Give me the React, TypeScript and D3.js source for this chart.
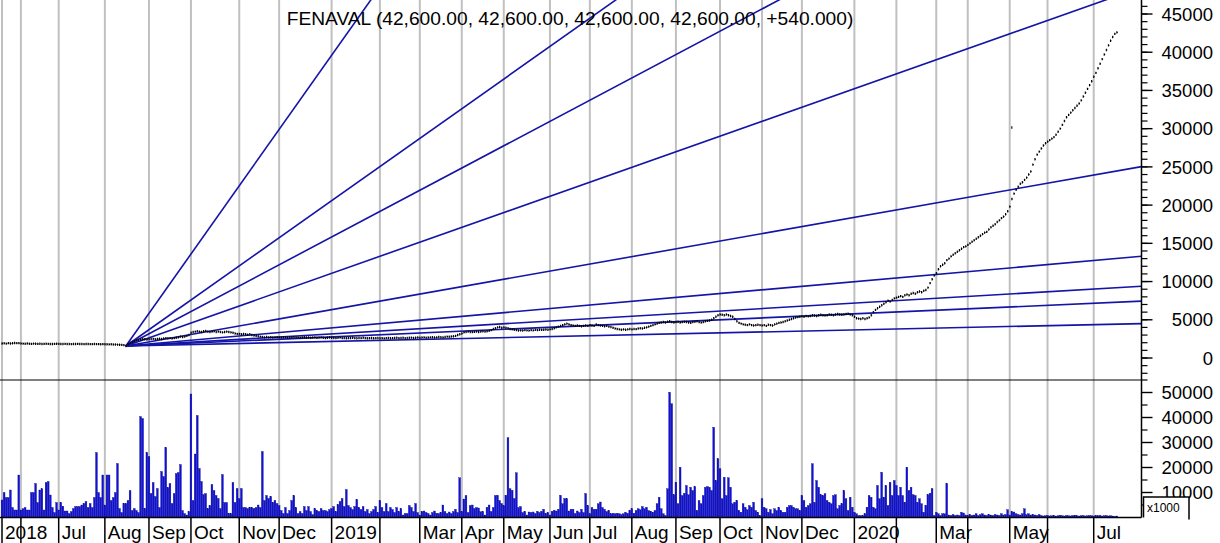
import React from "react";
import * as d3 from "d3";

const title = "FENAVAL (42,600.00, 42,600.00, 42,600.00, 42,600.00, +540.000)";

const monthLabels = ["2018", "", "Jul", "Aug", "Sep", "Oct", "Nov", "Dec", "2019", "", "Mar", "Apr", "May", "Jun", "Jul", "Aug", "Sep", "Oct", "Nov", "Dec", "2020", "", "Mar", "", "May", "", "Jul"];
const monthStart = [0, 9, 27, 49, 70, 90, 113, 132, 157, 180, 199, 219, 239, 261, 280, 300, 321, 342, 362, 381, 406, 426, 445, 460, 480, 498, 520];

const close2018 = [
  1900, 1920, 1880, 1950, 1900, 1930, 1960, 1940, 1950,
  1900, 1880, 1870, 1890, 1860, 1850, 1880, 1870, 1850, 1860, 1840, 1850, 1860, 1850, 1840, 1830, 1850, 1860,
  1850, 1840, 1830, 1850, 1840, 1830, 1820, 1840, 1830, 1850, 1840, 1830, 1820, 1840, 1830, 1820, 1810, 1830, 1820, 1810, 1800, 1810,
  1800, 1790, 1780, 1790, 1770, 1760, 1750, 1740, 1720, 1680, 1570, 1800, 2000, 2100, 2200, 2300, 2350, 2400, 2450, 2450, 2400,
  2450, 2480, 2500, 2450, 2500, 2520, 2480, 2550, 2600, 2580, 2600, 2550, 2600, 2650, 2700, 2800, 2750, 2800, 2900, 3000,
  3300, 3400, 3450, 3500, 3450, 3400, 3500, 3550, 3450, 3400, 3450, 3500, 3400, 3450, 3400, 3350, 3400, 3450, 3400, 3350, 3300, 3200, 3150,
  3150, 3100, 3150, 3100, 3050, 3100, 3000, 2950, 2900, 2850, 2800, 2750, 2700, 2750, 2700, 2720, 2680, 2700, 2720,
  2700, 2680, 2720, 2700, 2650, 2680, 2700, 2720, 2700, 2680, 2650, 2700, 2720, 2680, 2700, 2650, 2680, 2700, 2650, 2680, 2700, 2650, 2600, 2650, 2680,
];
const close2019 = [
  2650, 2620, 2600, 2650, 2680, 2600, 2620, 2580, 2600, 2620, 2650, 2600, 2580, 2620, 2600, 2650, 2600, 2580, 2600, 2620, 2580, 2600, 2620,
  2580, 2600, 2570, 2600, 2620, 2580, 2600, 2620, 2640, 2600, 2620, 2650, 2600, 2620, 2640, 2660, 2620, 2650, 2680,
  2650, 2680, 2700, 2650, 2680, 2700, 2720, 2680, 2700, 2750, 2720, 2700, 2750, 2800, 2780, 2820, 2850, 2900, 3000, 3100,
  3200, 3350, 3400, 3450, 3400, 3380, 3420, 3450, 3400, 3450, 3500, 3450, 3500, 3550, 3650, 3800, 3900, 4000, 4050, 3950,
  4000, 3950, 3900, 3800, 3750, 3700, 3650, 3600, 3620, 3600, 3650, 3620, 3600, 3650, 3620, 3680, 3650, 3700, 3680, 3700, 3720, 3700,
  3750, 3800, 3900, 4000, 4100, 4200, 4300, 4400, 4500, 4400, 4300, 4250, 4200, 4250, 4200, 4150, 4200, 4250, 4200,
  4300, 4250, 4200, 4400, 4300, 4250, 4200, 4150, 4200, 4100, 4050, 3950, 3850, 3800, 3750, 3700, 3750, 3700, 3750, 3800,
  3750, 3800, 3780, 3850, 3900, 3850, 3950, 4000, 4100, 4200, 4300, 4400, 4500, 4600, 4650, 4700, 4650, 4750, 4800, 4700, 4650,
  4700, 4750, 4650, 4700, 4750, 4700, 4650, 4600, 4700, 4750, 4800, 4700, 4650, 4700, 4800, 4850, 4900, 5000, 5200, 5400, 5600,
  5700, 5650, 5600, 5700, 5600, 5500, 5400, 5100, 4800, 4600, 4500, 4400, 4350, 4300, 4400, 4300, 4250, 4300, 4350, 4300,
  4250, 4300, 4200, 4350, 4300, 4250, 4400, 4500, 4600, 4650, 4700, 4800, 4900, 5000, 5100, 5200, 5300, 5350, 5400,
  5450, 5400, 5500, 5450, 5500, 5600, 5550, 5500, 5600, 5650, 5600, 5550, 5600, 5700, 5650, 5600, 5700, 5750, 5700, 5650, 5700, 5750, 5800, 5700, 5600,
];
const close2020 = [
  5400, 5200, 5150, 5100, 5200, 5100, 5200, 5300, 5600, 6000, 6300, 6500, 6700, 6900, 7100, 7300, 7500, 7400, 7600, 7800,
  7900, 8000, 8100, 8000, 8200, 8300, 8200, 8400, 8500, 8400, 8600, 8700, 8600, 8800, 8900, 9200, 9800, 10300, 10800,
  11100, 11600, 12000, 12200, 12400, 12800, 13000, 13300, 13500, 13700, 13900, 14100, 14300, 14500, 14600,
  14800, 15000, 15200, 15400, 15600, 15800, 16000, 16200, 16400, 16500, 16800, 17100, 17300, 17500, 17800, 18000, 18300, 18500, 18800, 19200,
  19800, 20800, 21500, 22000, 22400, 22800, 23000, 23300, 23600, 24000, 24400, 25300, 26000, 26600, 27000, 27400, 27800, 28100,
  28300, 28500, 28700, 28900, 29200, 29600, 30000, 30500, 31000, 31500, 31800, 32100, 32400, 32700, 33000, 33300, 33700, 34200, 34700, 35200, 35700, 36200,
  36800, 37300, 37900, 38500, 39100, 39700, 40300, 40900, 41500, 42000, 42400, 42600,
];

// volume, in thousands of axis units (axis is "x1000")
const volume2018 = [
  7, 10, 8, 8, 11, 4, 3, 3, 17, 3,
  3.5, 4, 3, 3, 10, 10, 13.6, 6, 11, 11.5,
  3, 14, 14.4, 9, 4, 2, 6, 3, 6, 4.5,
  2.6, 2.6, 1.6, 2.4, 3.6, 4.4, 4.4, 4.4, 5, 5.6,
  6.4, 4, 5.6, 4, 8, 26, 10, 8, 17, 5,
  17, 17, 6.8, 8, 10, 21.6, 3.6, 2, 5.6, 5.6,
  6.8, 10.8, 2.8, 3.6, 2.8, 2, 40.4, 39.6, 3.6, 26,
  24.4, 9.6, 14, 8.4, 11.6, 4, 18.4, 16.4, 28, 12,
  13.6, 5.6, 9.6, 17.6, 18, 21.2, 2.8, 1.6, 1, 2.4,
  49.4, 6.8, 25.4, 40.8, 19.6, 14.4, 9.2, 9.6, 3.6, 4.8,
  13.2, 10.8, 8.8, 7.6, 3.6, 17.2, 6, 6, 1.6, 1.6,
  14, 6, 11.6, 7.6, 11.6, 4, 4, 3.6, 4, 4,
  3.6, 4, 5, 4, 26.4, 6.8, 8.8, 7.6, 8.4, 6,
  6.8, 5.6, 4.8, 2.8, 1.6, 4, 1.6, 2.8, 6.8, 8.8,
  4, 1.6, 2.4, 1.6, 4.4, 2.8, 4.4, 2.4, 1.2, 3.6,
  2.8, 2.4, 3.6, 2.8, 2.8, 2.4, 3.2,
];
const volume2019 = [
  3.6, 4.4, 2.4,
  5.2, 6.4, 7.6, 4.4, 11.2, 4.8, 4, 3.2, 4.4, 7.2,
  4, 3.2, 4.4, 2.4, 3.2, 1.6, 2.4, 3.2, 4.4, 2,
  6.8, 4, 2.4, 5.6, 2.4, 4, 3.2, 2, 4, 2.4,
  3.6, 1, 1.6, 1.6, 4.8, 4, 2.4, 5.6, 2, 1,
  2.4, 2.6, 2, 1.6, 1, 2, 2.6, 1.7, 1.6, 2,
  5, 2.4, 1.6, 2.2, 1.6, 2.4, 3.3, 2, 15.9, 2.4,
  7.4, 8.8, 2, 4.8, 5, 3.6, 4, 3.8, 2.3, 2.4,
  1, 4.1, 5, 2.4, 4, 8.8, 8.9, 6.8, 5.6, 4.7,
  8.9, 31.9, 11.5, 10.9, 7.6, 17.9, 4, 4.4, 2, 2.4,
  1, 2.2, 2, 2.2, 1.6, 2.5, 2, 2.5, 3.3, 1.6,
  2, 1, 2.5, 2.9, 2.6, 3.3, 8.9, 5.5, 7.6, 7.5,
  2.6, 3.3, 3.3, 1.6, 2.6, 2, 3.3, 2, 9.6, 4.8,
  1.5, 4, 3.3, 3.3, 5.5, 6.2, 4, 3.3, 2.4, 2.8,
  1.5, 1.7, 1.5, 1.7, 1.5, 1.2, 1.5, 2.1, 1.7, 2.8,
  3.5, 1.7, 2.8, 3.5, 3.1, 4.4, 3.5, 4.1, 2.8, 2.5,
  2.1, 2.8, 5.5, 8.1, 3.5, 1.5, 0.8, 11.5, 50.1, 45.5,
  9.1, 14.1, 5.5, 20.1, 8.8, 9.7, 12.8, 9.1, 12.1, 10.8,
  12.4, 2.8, 6.8, 5.5, 8.8, 12.1, 12.4, 12.1, 10.8, 36.1,
  14.8, 23.5, 19.5, 7.5, 16.1, 8.8, 15.9, 12.1, 5.5, 6.1,
  6.8, 2.8, 2.1, 5.5, 4.1, 3.1, 4.8, 4.1, 6.1, 2.8,
  2.1, 0.8, 7.5, 4.1, 3.5, 2.1, 3.2, 1.5, 3.5, 2.8,
  4.1, 2.8, 2.1, 2.1, 4.1, 4.8, 4.8, 4.1, 3.5, 3.5,
  2.8, 8.8, 6.8, 4.1, 4.8, 5.5, 21.5, 6.1, 14.8, 12.1,
  9.1, 8.8, 9.5, 6.8, 6.1, 5.5, 8.8, 9.1, 3.5, 4.8,
  5.5, 10.8, 7.5, 2.8, 8.1, 4.1,
];
const volume2020 = [
  2.1, 1.5, 0.8, 0.8,
  0.8, 1.5, 4.1, 8.8, 8.1, 4.1, 3.5, 12.8, 7.5, 18.1,
  8.1, 12.8, 4.8, 14.1, 8.8, 14.8, 12.8, 8.8, 12.1, 8.8,
  6.1, 20.1, 10.8, 12.1, 9.1, 8.8, 6.1, 7.5, 5.5, 2.1,
  4.8, 9.1, 9.7, 11.6, 0.8, 2.1, 1.5, 0.8, 1.5, 1.5,
  13.6, 1, 0.8, 1.2, 0.8, 1, 0.8, 2.1, 1.8, 1,
  0.8, 1.2, 0.8, 1, 1.5, 0.8, 1.2, 1.5, 1, 0.8,
  1.2, 1, 0.8, 1.2, 1, 0.8, 1.5, 1, 1.2, 3.1,
  1, 2.4, 2.2, 1.5, 1.2, 1, 1.5, 3.5, 1.2, 1.5,
  1, 1.2, 1, 0.8, 1.2, 0.8, 0.6, 0.7, 0.9, 0.6,
  0.7, 0.8, 0.6, 0.7, 0.9, 0.7, 0.6, 0.8, 0.7, 0.6,
  0.8, 0.9, 0.7, 0.6, 0.7, 0.8, 0.6, 0.7, 0.8, 0.7,
  0.6, 0.8, 0.7, 0.9, 0.6, 0.7, 0.8, 0.6, 0.7, 0.6,
  0.5, 0.6,
];

const priceSpikes = [{ day: 481, value: 30200 }];

const fanOriginDay = 59;
const fanOriginPrice = 1570;
const fanOneByOnePerDay = 48.5;
const fanRatios = [8, 4, 3, 2, 1, 1 / 2, 1 / 3, 1 / 4, 1 / 8];

const priceTickLabels = [0, 5000, 10000, 15000, 20000, 25000, 30000, 35000, 40000, 45000];
const volumeTickLabels = [10, 20, 30, 40, 50];

const W = 1220;
const H = 543;
const plotRight = 1141.5;
const priceTop = 0;
const priceBottom = 380;
const volBottom = 517.5;
const FONT = "'Liberation Sans', Arial, sans-serif";

export default function App() {
  const close = [...close2018, ...close2019, ...close2020];
  const volume = [...volume2018, ...volume2019, ...volume2020];

  const x = d3.scaleLinear().domain([0, 543]).range([2, 1142]);
  const yP = d3.scaleLinear().domain([0, 45000]).range([358, 14]);
  const yV = d3.scaleLinear().domain([0, 50]).range([volBottom, 392.5]);

  const lastDay = x.invert(plotRight);

  // price marks path (small OHLC-style ticks)
  let markPath = "";
  close.forEach((v, i) => {
    const cx = x(i);
    const cy = yP(v);
    markPath += `M${cx.toFixed(2)},${(cy - 1.2).toFixed(2)}V${(cy + 1.2).toFixed(2)}M${cx.toFixed(2)},${cy.toFixed(2)}H${(cx + 1).toFixed(2)}`;
  });
  priceSpikes.forEach((s) => {
    const cx = x(s.day);
    const cy = yP(s.value);
    markPath += `M${cx.toFixed(2)},${(cy - 1).toFixed(2)}V${(cy + 1.5).toFixed(2)}`;
  });

  const fanLines = fanRatios.map((r) => {
    const endPrice = fanOriginPrice + r * fanOneByOnePerDay * (lastDay - fanOriginDay);
    return {
      x1: x(fanOriginDay),
      y1: yP(fanOriginPrice),
      x2: x(lastDay),
      y2: yP(endPrice),
    };
  });

  const minorPriceTicks = d3.range(-2000, 47000, 1000);
  const minorVolTicks = d3.range(5, 60, 10);

  return (
    <svg
      width={W}
      height={H}
      style={{ position: "absolute", left: 0, top: 0, background: "#fff" }}
      fontFamily={FONT}
    >
      <defs>
        <clipPath id="priceClip">
          <rect x={0} y={priceTop} width={plotRight} height={priceBottom - priceTop} />
        </clipPath>
        <clipPath id="volClip">
          <rect x={0} y={priceBottom} width={plotRight} height={volBottom - priceBottom} />
        </clipPath>
      </defs>
      <rect x={0} y={0} width={W} height={H} fill="#fff" />

      {/* gridlines */}
      {monthStart.map((d, i) => (
        <line key={"g" + i} x1={x(d)} x2={x(d)} y1={0} y2={volBottom} stroke="#c0c0c0" strokeWidth={2} />
      ))}

      {/* volume bars */}
      <g clipPath="url(#volClip)">
        {volume.map((v, i) => (
          <rect
            key={"v" + i}
            x={x(i) - 0.9}
            y={yV(v)}
            width={1.8}
            height={Math.max(0, volBottom - yV(v))}
            fill="#1010dc"
            stroke="#0a0a80"
            strokeWidth={0.35}
          />
        ))}
      </g>

      {/* fan lines */}
      <g clipPath="url(#priceClip)">
        {fanLines.map((l, i) => (
          <line key={"f" + i} x1={l.x1} y1={l.y1} x2={l.x2} y2={l.y2} stroke="#1414a6" strokeWidth={1.6} />
        ))}
        <path d={markPath} stroke="#000" strokeWidth={1.1} fill="none" />
      </g>

      {/* title */}
      <text x={570} y={25} textAnchor="middle" fontSize={19.2} fill="#000">
        {title}
      </text>

      {/* frame lines */}
      <line x1={0} x2={plotRight} y1={priceBottom} y2={priceBottom} stroke="#000" strokeWidth={1} />
      <line x1={0} x2={plotRight} y1={volBottom} y2={volBottom} stroke="#000" strokeWidth={1.5} />
      <line x1={plotRight} x2={plotRight} y1={0} y2={volBottom} stroke="#000" strokeWidth={1.5} />

      {/* price axis */}
      {minorPriceTicks.map((t) => (
        <line key={"pm" + t} x1={plotRight} x2={plotRight + 6} y1={yP(t)} y2={yP(t)} stroke="#000" strokeWidth={1.2} />
      ))}
      {priceTickLabels.map((t) => (
        <g key={"pl" + t}>
          <line x1={plotRight} x2={plotRight + 11} y1={yP(t)} y2={yP(t)} stroke="#000" strokeWidth={1.4} />
          <text x={1213} y={yP(t)} dy="0.36em" textAnchor="end" fontSize={18.5} fill="#000">
            {t}
          </text>
        </g>
      ))}

      {/* volume axis */}
      {minorVolTicks.map((t) => (
        <line key={"vm" + t} x1={plotRight} x2={plotRight + 6} y1={yV(t)} y2={yV(t)} stroke="#000" strokeWidth={1.2} />
      ))}
      {volumeTickLabels.map((t) => (
        <g key={"vl" + t}>
          <line x1={plotRight} x2={plotRight + 11} y1={yV(t)} y2={yV(t)} stroke="#000" strokeWidth={1.4} />
          <text x={1213} y={yV(t)} dy="0.36em" textAnchor="end" fontSize={18.5} fill="#000">
            {t * 1000}
          </text>
        </g>
      ))}
      <path d={`M${plotRight + 2},${volBottom} V497 H1189 V${volBottom + 2}`} stroke="#000" strokeWidth={1.5} fill="#fff" />
      <text x={1147} y={512} fontSize={12} fill="#000">
        x1000
      </text>

      {/* bottom axis */}
      {monthStart.map((d, i) => (
        <g key={"b" + i}>
          <line x1={x(d)} x2={x(d)} y1={volBottom} y2={H} stroke="#000" strokeWidth={1.5} />
          {monthLabels[i] ? (
            <text x={x(d) + 3} y={539} fontSize={19} fill="#000">
              {monthLabels[i]}
            </text>
          ) : null}
        </g>
      ))}
    </svg>
  );
}
